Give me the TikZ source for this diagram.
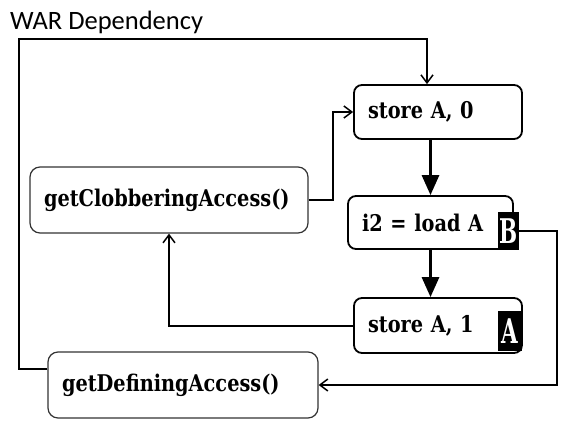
\documentclass[tikz,border=0pt]{standalone}
\usepackage{fontspec}
\setmainfont{Carlito}
\newfontfamily\slabfont[FakeStretch=0.84]{DejaVu Serif}
\usetikzlibrary{positioning,arrows.meta}

\begin{document}
\begin{tikzpicture}[x=1pt,y=-1pt,
    instr/.style={draw,line width=1.8pt,rounded corners=8pt,inner xsep=14pt,inner ysep=0pt,align=left,
      font=\slabfont\bfseries\fontsize{23}{26}\selectfont},
    query/.style={draw=black!80,line width=1.2pt,rounded corners=10pt,inner xsep=14pt,inner ysep=0pt,align=left,
      minimum height=66pt,font=\slabfont\bfseries\fontsize{23}{26}\selectfont},
    badge/.style={fill=black,text=white,inner sep=0pt,font=\slabfont\bfseries\fontsize{34}{34}\selectfont},
    link/.style={line width=2pt,-{Straight Barb[length=8pt,width=12pt,line width=1.5pt]}},
    flow/.style={line width=3pt,-{Triangle[length=20pt,width=17pt]}}]
    \useasboundingbox (0,0) rectangle (563,436);
    \node[anchor=base west,inner sep=0pt,font=\fontsize{26.5}{30}\selectfont] (title) at (10,30) {WAR Dependency};
    \node[instr,text width=140pt,minimum height=54pt] (store0) at (438,112) {store A, 0};
    \node[instr,text width=137pt,minimum height=53pt] (load) at (430.5,222.5) {i2 = load A};
    \node[instr,text width=140pt,minimum height=55pt] (store1) at (438,325.5) {store A, 1};
    \node[query,text width=250pt] (clob) at (169,200) {getClobberingAccess()};
    \node[query,text width=242pt] (defn) at (183,385) {getDefiningAccess()};
    \node[badge,minimum width=21pt,minimum height=38pt] (markB) at (508.5,231) {\scalebox{0.75}[1]{B}};
    \node[badge,minimum width=24pt,minimum height=40pt] (markA) at (510,331) {\scalebox{0.75}[1]{A}};
    \path[flow]
    (store0.south -| load.north) edge (load.north)
    (load.south) edge (load.south |- store1.north);
    \draw[link] ([yshift=16pt]defn.west) -| (19,39) -| ([xshift=-11pt]store0.north);
    \draw[link] (clob.east) -- ++(24,0) |- (store0.west);
    \draw[link] (store1.west) -| (clob.south);
    \draw[link] (markB.east) -- ++(38,0) |- (defn.east);
\end{tikzpicture}
\end{document}
